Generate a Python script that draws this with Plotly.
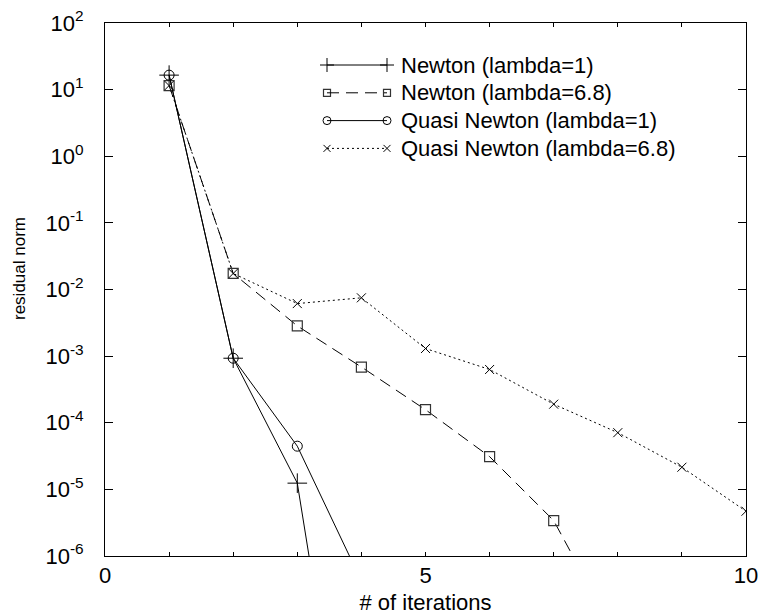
import plotly.graph_objects as go

# ---- data ----
x_newton1 = [1, 2, 3, 4]
y_newton1 = [16.5, 9.3e-4, 1.24e-5, 1.3e-11]

x_newton68 = [1, 2, 3, 4, 5, 6, 7, 8]
y_newton68 = [11.5, 0.0174, 2.84e-3, 6.86e-4, 1.57e-4, 3.1e-5, 3.4e-6, 5.7e-8]

x_quasi1 = [1, 2, 3, 4]
y_quasi1 = [16.5, 9.3e-4, 4.45e-5, 4.2e-7]

x_quasi68 = [1, 2, 3, 4, 5, 6, 7, 8, 9, 10]
y_quasi68 = [11.5, 0.0174, 6.15e-3, 7.5e-3, 1.30e-3, 6.3e-4, 1.9e-4, 7.1e-5, 2.15e-5, 4.7e-6]

names = ["Newton (lambda=1)", "Newton (lambda=6.8)",
         "Quasi Newton (lambda=1)", "Quasi Newton (lambda=6.8)"]

x_tickvals = [0, 5, 10]
x_ticktext = ["0", "5", "10"]
x_minor_vals = [1, 2, 3, 4, 6, 7, 8, 9]
y_exponents = [-6, -5, -4, -3, -2, -1, 0, 1, 2]

# ---- styling ----
FONT = "Liberation Sans, Arial, Helvetica, sans-serif"
BLACK = "#000000"
W, H = 759, 615
ML, MR, MT, MB = 105, 13, 23, 59
PW, PH = W - ML - MR, H - MT - MB

styles = [
    dict(line=dict(color=BLACK, width=1, dash="solid"),
         marker=dict(symbol="cross-thin", size=14, line=dict(color=BLACK, width=1))),
    dict(line=dict(color=BLACK, width=1, dash="12px,7px"),
         marker=dict(symbol="square-open", size=10, color="#333333",
                     line=dict(color="#333333", width=1.2))),
    dict(line=dict(color=BLACK, width=1, dash="solid"),
         marker=dict(symbol="circle-open", size=10, color=BLACK,
                     line=dict(color=BLACK, width=1))),
    dict(line=dict(color=BLACK, width=1, dash="2px,3px"),
         marker=dict(symbol="x-thin", size=9, line=dict(color=BLACK, width=1))),
]
legend_marker_sizes = [10, 7, 8, 7]


def px_to_paper_x(px):
    return (px - ML) / PW


def px_to_paper_y(py):
    return 1 - (py - MT) / PH


fig = go.Figure()

series = [(x_newton1, y_newton1), (x_newton68, y_newton68),
          (x_quasi1, y_quasi1), (x_quasi68, y_quasi68)]
for (xs, ys), nm, st in zip(series, names, styles):
    fig.add_trace(go.Scatter(x=xs, y=ys, name=nm, mode="lines+markers",
                             line=st["line"], marker=st["marker"], showlegend=False))

# ---- hand-drawn legend (markers at both ends of the sample line) ----
LEG_X0, LEG_X1, LEG_TEXT_X = 327, 387, 399
LEG_Y0, LEG_DY = 65, 27.8
annotations = []
shapes = []
for i, (nm, st) in enumerate(zip(names, styles)):
    py = LEG_Y0 + i * LEG_DY
    yp = px_to_paper_y(py)
    x0p, x1p = px_to_paper_x(LEG_X0), px_to_paper_x(LEG_X1)
    shapes.append(dict(type="line", xref="paper", yref="paper",
                       x0=x0p, x1=x1p, y0=yp, y1=yp,
                       line=dict(color=BLACK, width=1, dash=st["line"]["dash"])))
    mk = dict(st["marker"])
    mk["size"] = legend_marker_sizes[i]
    fig.add_trace(go.Scatter(x=[x0p, x1p], y=[yp, yp], mode="markers", marker=mk,
                             xaxis="x2", yaxis="y2", showlegend=False,
                             hoverinfo="skip", cliponaxis=False))
    annotations.append(dict(text=nm, xref="paper", yref="paper",
                            x=px_to_paper_x(LEG_TEXT_X), y=yp,
                            xanchor="left", yanchor="middle", showarrow=False,
                            font=dict(family=FONT, size=22, color=BLACK)))

# y-axis title (placed above the axis centre, as in the reference)
annotations.append(dict(text="residual norm", xref="paper", yref="paper",
                        x=px_to_paper_x(19), y=px_to_paper_y(269),
                        xanchor="center", yanchor="middle", textangle=-90,
                        showarrow=False, font=dict(family=FONT, size=17, color=BLACK)))

fig.update_layout(
    width=W, height=H,
    margin=dict(l=ML, r=MR, t=MT, b=MB, autoexpand=False),
    paper_bgcolor="white", plot_bgcolor="white",
    font=dict(family=FONT, color=BLACK, size=22),
    showlegend=False,
    shapes=shapes,
    annotations=annotations,
    xaxis=dict(
        range=[0, 10], tickmode="array", tickvals=x_tickvals, ticktext=x_ticktext,
        ticks="inside", ticklen=4, tickcolor=BLACK, tickwidth=1,
        minor=dict(tickmode="array", tickvals=x_minor_vals, ticks="inside",
                   ticklen=4, tickcolor=BLACK, tickwidth=1, showgrid=False),
        showline=True, linecolor=BLACK, linewidth=1, mirror="ticks",
        showgrid=False, zeroline=False,
        tickfont=dict(family=FONT, size=22, color=BLACK),
        ticklabelstandoff=0,
        title=dict(text="# of iterations", font=dict(family=FONT, size=22, color=BLACK),
                   standoff=12),
    ),
    yaxis=dict(
        type="log", range=[-6, 2], tickmode="array",
        tickvals=[10.0 ** e for e in y_exponents],
        ticktext=["10<sup>%d</sup>" % e for e in y_exponents],
        ticks="inside", ticklen=8, tickcolor=BLACK, tickwidth=1,
        showline=True, linecolor=BLACK, linewidth=1, mirror="ticks",
        showgrid=False, zeroline=False,
        tickfont=dict(family=FONT, size=22, color=BLACK),
        ticklabelstandoff=16,
    ),
    xaxis2=dict(overlaying="x", range=[0, 1], visible=False, fixedrange=True),
    yaxis2=dict(overlaying="y", range=[0, 1], visible=False, fixedrange=True),
)

fig.write_html("out.html", config={"displayModeBar": False},
               post_script="document.body.style.margin='0px';")
